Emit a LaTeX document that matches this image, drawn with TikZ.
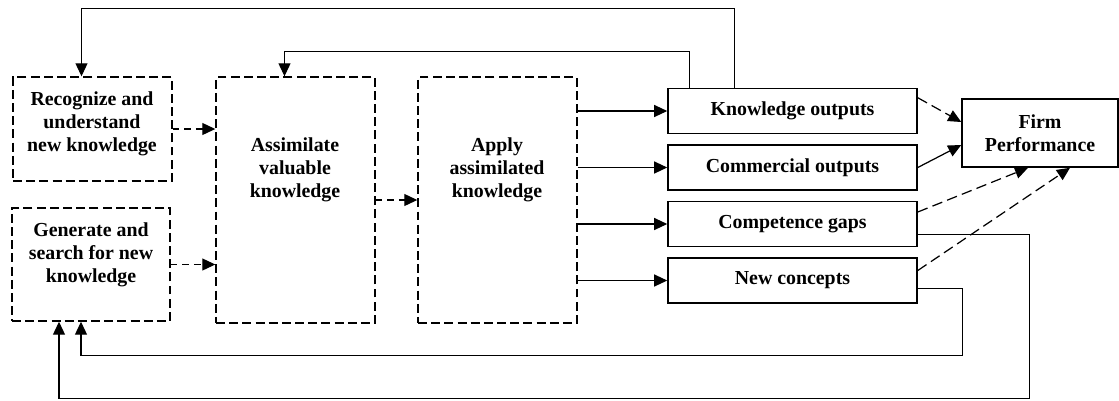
\documentclass[tikz,border=0pt]{standalone}
\usepackage{fontspec}
\setmainfont{Liberation Serif}
\usetikzlibrary{arrows.meta, calc}

\begin{document}
\begin{tikzpicture}[x=0.02cm, y=-0.02cm,
    dbox/.style={draw, line width=0.8pt, dash pattern=on 5.1pt off 2.4pt, inner sep=0pt},
    sbox/.style={draw, line width=0.9pt, inner sep=0pt, minimum width=4.98cm, minimum height=0.9cm,
        font=\bfseries\fontsize{11.3}{13}\selectfont, align=center},
    txt/.style={font=\bfseries\fontsize{11.3}{13}\selectfont, align=center, inner sep=0pt},
    link/.style={line width=0.7pt, -{Triangle[length=7.4pt, width=6.8pt]}},
    dlink/.style={link, dash pattern=on 3.8pt off 2.8pt},
    longdash/.style={link, dash pattern=on 6pt off 3pt}]
    \useasboundingbox (0,0) rectangle (1119,400);

    % Absorptive capacity stages
    \node[dbox, minimum width=3.18cm, minimum height=2.08cm] (rec) at (92.5,129) {};
    \node[txt] (recT) at (92,124) {Recognize and\\understand\\new knowledge};
    \node[dbox, minimum width=3.16cm, minimum height=2.26cm] (gen) at (91,264.5) {};
    \node[txt] (genT) at (91,255) {Generate and\\search for new\\knowledge};
    \node[dbox, minimum width=3.18cm, minimum height=4.92cm] (assim) at (295.5,200) {};
    \node[txt] (assimT) at (295,170) {Assimilate\\valuable\\knowledge};
    \node[dbox, minimum width=3.18cm, minimum height=4.92cm] (apply) at (497.5,200) {};
    \node[txt] (applyT) at (497,170) {Apply\\assimilated\\knowledge};

    % Outputs
    \node[sbox] (ko) at (792.5,111) {Knowledge outputs};
    \node[sbox] (co) at (792.5,167.5) {Commercial outputs};
    \node[sbox] (cg) at (792.5,224) {Competence gaps};
    \node[sbox] (nc) at (792.5,280.5) {New concepts};
    \node[sbox, minimum width=3.12cm, minimum height=1.36cm] (firm) at (1040,133) {Firm\\Performance};

    % Flows between stages
    \draw[dlink] (rec.east) -- (rec.east -| assim.west);
    \draw[dlink] (gen.east) -- (gen.east -| assim.west);
    \draw[dlink] (assim.east) -- (apply.west);
    \draw[link] (ko.west -| apply.east) -- (ko.west);
    \draw[link] (co.west -| apply.east) -- (co.west);
    \draw[link] (cg.west -| apply.east) -- (cg.west);
    \draw[link] (nc.west -| apply.east) -- (nc.west);

    % Into firm performance
    \draw[longdash] ($(ko.north east)+(0,10)$) -- ($(firm.west)+(0,-11)$);
    \draw[link] (co.east) -- ($(firm.west)+(0,12)$);
    \draw[longdash] ($(cg.east)+(0,-12)$) -- ($(firm.south)+(-12,0)$);
    \draw[longdash] ($(nc.east)+(0,-10)$) -- ($(firm.south)+(30,0)$);

    % Feedback loops
    \draw[link] ($(ko.north west)+(22,0)$) |- ($(assim.north)+(-11,-25)$) -- ($(assim.north)+(-11,0)$);
    \draw[link] ($(ko.north west)+(67,0)$) |- ($(rec.north)+(-11,-68)$) -- ($(rec.north)+(-11,0)$);
    \draw[link] ($(cg.south east)+(0,-13)$) -- ++(112,0) |- ($(gen.south)+(-32,77)$) -- ($(gen.south)+(-32,0)$);
    \draw[link] ($(nc.south east)+(0,-15)$) -- ++(45,0) |- ($(gen.south)+(-10,34)$) -- ($(gen.south)+(-10,0)$);
\end{tikzpicture}
\end{document}
